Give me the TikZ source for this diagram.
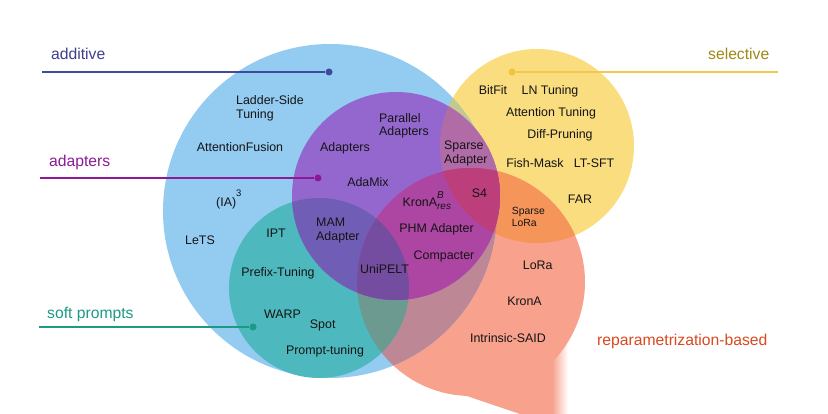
\documentclass[tikz,border=0pt]{standalone}
\usepackage{fontspec}
\setmainfont{Liberation Sans}
\definecolor{cB}{RGB}{147,203,241}
\definecolor{cY}{RGB}{249,221,127}
\definecolor{cYB}{RGB}{193,201,146}
\definecolor{cT}{RGB}{77,184,189}
\definecolor{cP}{RGB}{148,103,207}
\definecolor{cPT}{RGB}{112,93,181}
\definecolor{cPY}{RGB}{177,108,168}
\definecolor{cS}{RGB}{248,161,140}
\definecolor{cSY}{RGB}{245,149,90}
\definecolor{cSB}{RGB}{190,135,150}
\definecolor{cSBY}{RGB}{214,125,112}
\definecolor{cST}{RGB}{108,154,144}
\definecolor{cSP}{RGB}{173,70,163}
\definecolor{cSPT}{RGB}{116,77,160}
\definecolor{cSPY}{RGB}{188,62,122}
\definecolor{tAdd}{RGB}{62,62,140}
\definecolor{lAdd}{RGB}{64,74,156}
\definecolor{tAda}{RGB}{140,26,150}
\definecolor{tSoft}{RGB}{28,154,132}
\definecolor{tSel}{RGB}{160,136,20}
\definecolor{lSel}{RGB}{242,200,78}
\definecolor{dSel}{RGB}{240,197,58}
\definecolor{tRep}{RGB}{217,72,30}
\begin{document}
\begin{tikzpicture}[x=1pt,y=-1pt,
  lbl/.style={font=\fontsize{12.4}{13.8}\selectfont, inner sep=0pt, text={black!92}},
  lbltwo/.style={lbl, align=left, anchor=west},
  small/.style={font=\fontsize{10.4}{11.6}\selectfont, inner sep=0pt, text={black!92}, align=left, anchor=west},
  cat/.style={font=\fontsize{15.7}{18}\selectfont, inner sep=0pt, anchor=base west},
  dot/.style={circle, inner sep=0pt, minimum size=7pt},
  lead/.style={line width=1.1pt}]
\useasboundingbox (0,0) rectangle (828,414);
\def\cB{(330,211) circle[radius=167pt]}
\def\cP{(396,196) circle[radius=104pt]}
\def\cT{(319,288) circle[radius=90pt]}
\def\cY{(537,146) circle[radius=97pt]}
\def\cS{(471,282) circle[radius=114pt]}
% smeared extension below the salmon circle
\fill[cS] (455,392) -- (520,414) -- (554,414) -- (554,350) -- cycle;
\shade[left color=cS, right color=white] (552,340) rectangle (568,414);
% base circles and overlaps
\fill[cY] \cY;
\fill[cS] \cS;
\begin{scope}\clip \cS; \fill[cSY] \cY; \end{scope}
\fill[cB] \cB;
\begin{scope}\clip \cB; \fill[cYB] \cY; \fill[cSB] \cS; \end{scope}
\begin{scope}\clip \cB; \clip \cS; \fill[cSBY] \cY; \end{scope}
\fill[cT] \cT;
\begin{scope}\clip \cT; \fill[cST] \cS; \end{scope}
\fill[cP] \cP;
\begin{scope}\clip \cP; \fill[cPT] \cT; \fill[cPY] \cY; \fill[cSP] \cS; \end{scope}
\begin{scope}\clip \cP; \clip \cS; \fill[cSPT] \cT; \fill[cSPY] \cY; \end{scope}
% category labels and leaders
\node[cat, text=tAdd] (additive) at (51,60) {additive};
\coordinate (addL) at (42,72);
\node[dot, fill=lAdd] (addD) at (329,72) {};
\draw[lead, lAdd] (addL) -- (addD);
\node[cat, text=tAda] (adapters) at (49,166.5) {adapters};
\coordinate (adaL) at (40,178);
\node[dot, fill=tAda] (adaD) at (318,178) {};
\draw[lead, tAda] (adaL) -- (adaD);
\node[cat, text=tSoft] (soft) at (47,319) {soft prompts};
\coordinate (softL) at (39,327);
\node[dot, fill=tSoft] (softD) at (253,327) {};
\draw[lead, tSoft] (softL) -- (softD);
\node[cat, text=tSel] (selective) at (708,60) {selective};
\coordinate (selR) at (778,72);
\node[dot, fill=dSel] (selD) at (512,72) {};
\draw[lead, lSel] (selD) -- (selR);
\node[cat, text=tRep] (reparam) at (597,345.5) {reparametrization-based};
% method labels
\node[lbltwo] (lst) at (236,108.3) {Ladder-Side\\Tuning};
\node[lbl, anchor=base] (af) at (240,151.2) {AttentionFusion};
\node[lbl, anchor=base west] (ia3) at (216,207) {(IA)\raisebox{10.5pt}{\fontsize{9.5}{9.5}\selectfont 3}};
\node[lbl, anchor=base] (lets) at (200,244.5) {LeTS};
\node[lbl, anchor=base] (ipt) at (276,237.5) {IPT};
\node[lbl, anchor=base] (prefix) at (278,276.5) {Prefix-Tuning};
\node[lbl, anchor=base] (warp) at (282.5,318.5) {WARP};
\node[lbl, anchor=base] (spot) at (322.7,329) {Spot};
\node[lbl, anchor=base] (prompt) at (325,354.5) {Prompt-tuning};
\node[lbltwo] (mam) at (316,230.7) {MAM\\Adapter};
\node[lbl, anchor=base] (unipelt) at (384.5,273.2) {UniPELT};
\node[lbl, anchor=base] (adapt) at (345,151.5) {Adapters};
\node[lbltwo] (par) at (379,125.7) {Parallel\\Adapters};
\node[lbl, anchor=base] (adamix) at (368,186.2) {AdaMix};
\node[lbl, anchor=base west] (kronab) at (402.5,206.5) {KronA\rlap{\raisebox{7.5pt}{\fontsize{10}{10}\selectfont\itshape B}}\raisebox{-3.5pt}{\fontsize{10}{10}\selectfont\itshape res}};
\node[lbl, anchor=base] (phm) at (436.5,232.8) {PHM Adapter};
\node[lbl, anchor=base] (compacter) at (444,259.8) {Compacter};
\node[lbltwo] (spad) at (444,153.2) {Sparse\\Adapter};
\node[lbl, anchor=base] (s4) at (479.5,197.8) {S4};
\node[lbl, anchor=base] (bitfit) at (493,94.5) {BitFit};
\node[lbl, anchor=base] (ln) at (550,94.5) {LN Tuning};
\node[lbl, anchor=base] (att) at (551,116.2) {Attention Tuning};
\node[lbl, anchor=base] (diff) at (560,138.8) {Diff-Pruning};
\node[lbl, anchor=base] (fish) at (535,167.2) {Fish-Mask};
\node[lbl, anchor=base] (ltsft) at (594,167.2) {LT-SFT};
\node[lbl, anchor=base] (far) at (580,203.8) {FAR};
\node[small] (splora) at (511.7,217) {Sparse\\LoRa};
\node[lbl, anchor=base] (lora) at (537.7,269.8) {LoRa};
\node[lbl, anchor=base] (krona) at (524.5,305.2) {KronA};
\node[lbl, anchor=base] (said) at (508,342.8) {Intrinsic-SAID};
\end{tikzpicture}
\end{document}
